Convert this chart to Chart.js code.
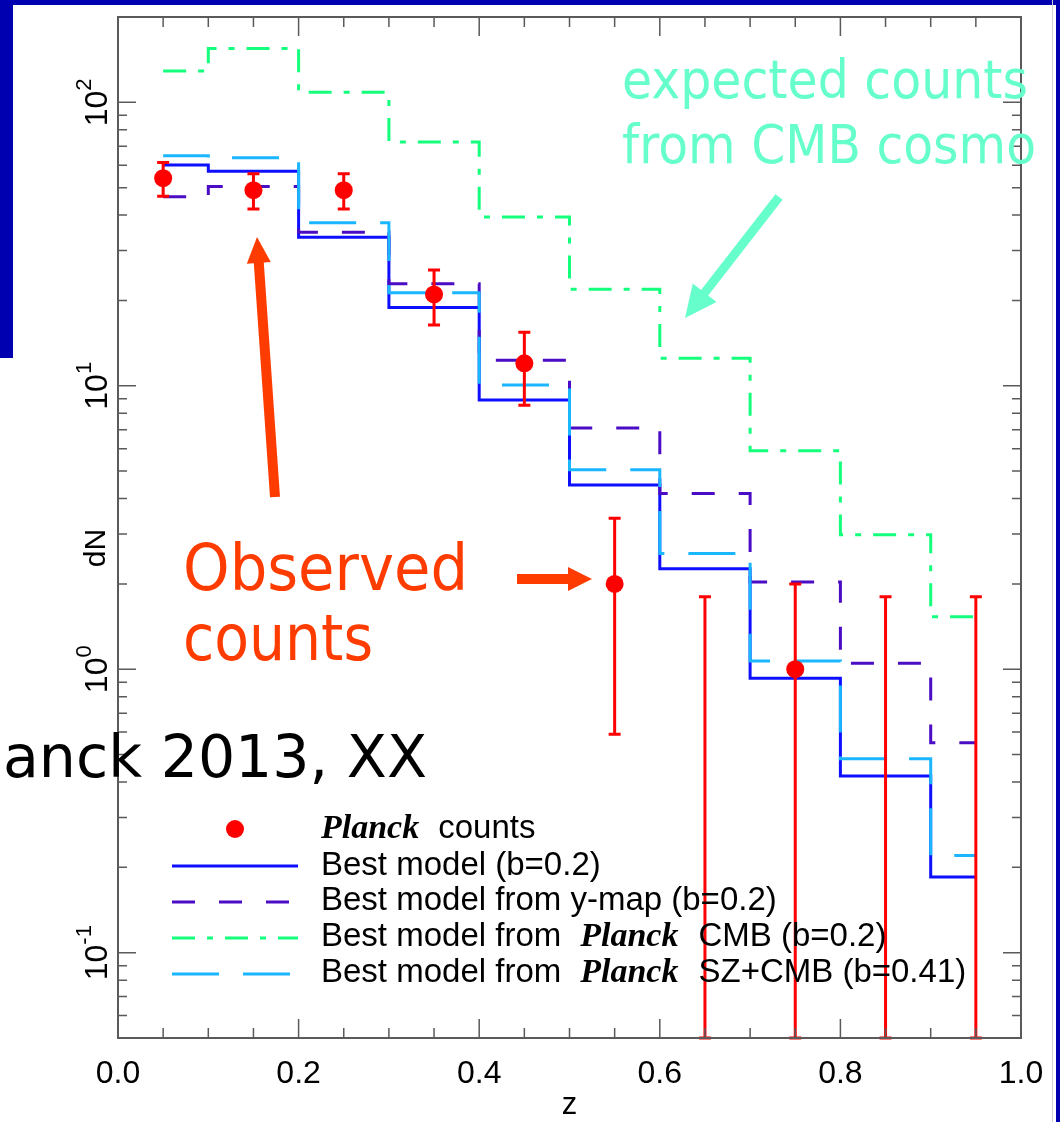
<!DOCTYPE html>
<html>
<head>
<meta charset="utf-8">
<script src="https://cdn.jsdelivr.net/npm/chart.js@4/dist/chart.umd.min.js"></script>
<style>
html, body { margin: 0; padding: 0; background: #fff; }
#wrap { position: relative; width: 1060px; height: 1122px; overflow: hidden; background: #fff; }
#dn { position: absolute; left: 0; top: 0; }
.bar { position: absolute; background: #0000b0; }
</style>
</head>
<body>
<div id="wrap">
  <canvas id="dn" width="1060" height="1122"></canvas>
  <div class="bar" style="left:0;top:0;width:1060px;height:5px"></div>
  <div class="bar" style="left:0;top:0;width:13px;height:358px"></div>
  <div class="bar" style="left:1052px;top:0;width:1px;height:1122px;background:#d0d0d8"></div>
  <div class="bar" style="left:1056px;top:0;width:4px;height:1122px"></div>
</div>
<script>
// redshift bins (centres) and counts per bin
const zBins = [0.05, 0.15, 0.25, 0.35, 0.45, 0.55, 0.65, 0.75, 0.85, 0.95];
const bestModel = [60.1, 57.1, 33.4, 18.9, 8.9, 4.47, 2.26, 0.93, 0.42, 0.185];
const yMapModel = [46.4, 50.5, 34.8, 22.9, 12.3, 7.1, 4.17, 2.03, 1.05, 0.55];
const cmbModel = [129, 155, 108.5, 72.4, 39.4, 21.9, 12.5, 5.9, 2.98, 1.53];
const szCmbModel = [64.8, 63.7, 37.6, 21.3, 10.07, 5.06, 2.56, 1.07, 0.483, 0.22];
const obsCounts = [54, 49, 49, 21, 12, 2, 0, 1, 0, 0];
const errUp = [7.35, 7, 7, 4.6, 3.46, 1.41, 1.8, 1, 1.8, 1.8];
const errDown = [7.35, 7, 7, 4.6, 3.46, 1.41, 0, 1, 0, 0];

const xTickLabels = ['0.0', '0.2', '0.4', '0.6', '0.8', '1.0'];
const yDecades = [-1, 0, 1, 2];

const C_BEST = '#0f0fff';
const C_YMAP = '#4a0cc4';
const C_CMB = '#14ff7c';
const C_SZ = '#1ab6ff';
const C_OBS = '#ff0000';
const AXIS = '#5a5a5a';

function steps(vals) {
  return zBins.map((z, i) => ({ x: z, y: vals[i] }));
}

function arrow(ctx, x0, y0, x1, y1, w, hl, hw, col) {
  const a = Math.atan2(y1 - y0, x1 - x0);
  const len = Math.hypot(x1 - x0, y1 - y0);
  ctx.save();
  ctx.translate(x0, y0);
  ctx.rotate(a);
  ctx.fillStyle = col;
  ctx.fillRect(0, -w / 2, len - hl + 1, w);
  ctx.beginPath();
  ctx.moveTo(len, 0);
  ctx.lineTo(len - hl, -hw / 2);
  ctx.lineTo(len - hl, hw / 2);
  ctx.closePath();
  ctx.fill();
  ctx.restore();
}

// squeeze/stretch a string to a given width
function fitText(ctx, txt, x, y, w) {
  const m = ctx.measureText(txt).width;
  ctx.save();
  ctx.translate(x, y);
  ctx.scale(w / m, 1);
  ctx.fillText(txt, 0, 0);
  ctx.restore();
}

const errorBars = {
  id: 'errorBars',
  afterDatasetsDraw(chart) {
    const ctx = chart.ctx, xs = chart.scales.x, ys = chart.scales.y;
    const area = chart.chartArea;
    ctx.save();
    ctx.strokeStyle = C_OBS;
    ctx.lineWidth = 3;
    zBins.forEach((z, i) => {
      const x = xs.getPixelForValue(z);
      const hi = ys.getPixelForValue(obsCounts[i] + errUp[i]);
      const lowVal = obsCounts[i] - errDown[i];
      const lo = lowVal > ys.min ? ys.getPixelForValue(lowVal) : area.bottom;
      ctx.beginPath();
      ctx.moveTo(x, hi); ctx.lineTo(x, lo);
      ctx.moveTo(x - 6, hi); ctx.lineTo(x + 6, hi);
      ctx.moveTo(x - 6, lo); ctx.lineTo(x + 6, lo);
      ctx.stroke();
    });
    ctx.restore();
  }
};

const frame = {
  id: 'frame',
  afterDraw(chart) {
    const ctx = chart.ctx, xs = chart.scales.x, ys = chart.scales.y;
    const a = chart.chartArea;
    ctx.save();

    // legend
    const lx0 = 172, lx1 = 298;
    const rows = [838, 875, 910, 946, 982];
    const lines = [[875 - 9, C_BEST, []], [910 - 8, C_YMAP, [23, 24]], [946 - 8, C_CMB, [23, 12, 6, 12]], [982 - 8, C_SZ, [47, 24]]];
    ctx.fillStyle = C_OBS;
    ctx.beginPath(); ctx.arc(235, 829, 9, 0, Math.PI * 2); ctx.fill();
    ctx.lineWidth = 3;
    lines.forEach(([y, c, d]) => {
      ctx.strokeStyle = c; ctx.setLineDash(d);
      ctx.beginPath(); ctx.moveTo(lx0, y); ctx.lineTo(lx1, y); ctx.stroke();
    });
    ctx.setLineDash([]);
    const sans = '33px "Liberation Sans", Arial, sans-serif';
    const planck = 'italic bold 34px "Liberation Serif", "Times New Roman", serif';
    ctx.fillStyle = '#000';
    ctx.textBaseline = 'alphabetic';
    ctx.textAlign = 'left';
    function row(y, parts) {
      let x = 321;
      parts.forEach(([t, f, gap]) => {
        ctx.font = f;
        ctx.fillText(t, x, y);
        x += ctx.measureText(t).width + gap;
      });
    }
    row(rows[0], [['Planck', planck, 19], ['counts', sans, 0]]);
    ctx.font = sans;
    ctx.fillText('Best model (b=0.2)', 321, rows[1]);
    ctx.fillText('Best model from y-map (b=0.2)', 321, rows[2]);
    row(rows[3], [['Best model from', sans, 19], ['Planck', planck, 20], ['CMB (b=0.2)', sans, 0]]);
    row(rows[4], [['Best model from', sans, 19], ['Planck', planck, 20], ['SZ+CMB (b=0.41)', sans, 0]]);

    // box and inward ticks on all four sides
    ctx.strokeStyle = AXIS;
    ctx.lineWidth = 1.5;
    ctx.beginPath();
    for (let k = 1; k < 20; k++) {
      const x = xs.getPixelForValue(k * 0.05);
      const len = k % 4 === 0 ? 19 : 10;
      ctx.moveTo(x, a.bottom); ctx.lineTo(x, a.bottom - len);
      ctx.moveTo(x, a.top); ctx.lineTo(x, a.top + len);
    }
    for (let e = -2; e <= 2; e++) {
      for (let m = 1; m <= 9; m++) {
        const v = m * Math.pow(10, e);
        if (v <= ys.min || v >= ys.max) continue;
        const y = ys.getPixelForValue(v);
        const len = m === 1 ? 18 : 9;
        ctx.moveTo(a.left, y); ctx.lineTo(a.left + len, y);
        ctx.moveTo(a.right, y); ctx.lineTo(a.right - len, y);
      }
    }
    ctx.stroke();
    ctx.lineWidth = 2;
    ctx.strokeRect(a.left, a.top, a.right - a.left, a.bottom - a.top);

    // x tick labels and title
    ctx.fillStyle = '#000';
    ctx.font = '32px "Liberation Sans", Arial, sans-serif';
    ctx.textAlign = 'center';
    xTickLabels.forEach((t, i) => ctx.fillText(t, xs.getPixelForValue(i * 0.2), 1083));
    ctx.font = '31px "Liberation Sans", Arial, sans-serif';
    ctx.fillText('z', xs.getPixelForValue(0.5), 1114);

    // y decade labels, rotated, with superscript exponent
    yDecades.forEach(e => {
      const y = ys.getPixelForValue(Math.pow(10, e));
      const sup = e < 0 ? '-' + (-e) : String(e);
      ctx.save();
      ctx.translate(107, y);
      ctx.rotate(-Math.PI / 2);
      ctx.font = '32px "Liberation Sans", Arial, sans-serif';
      const wb = ctx.measureText('10').width;
      ctx.font = '22px "Liberation Sans", Arial, sans-serif';
      const ws = ctx.measureText(sup).width;
      const x0 = -(wb + ws) / 2;
      ctx.textAlign = 'left';
      ctx.font = '32px "Liberation Sans", Arial, sans-serif';
      ctx.fillText('10', x0, 0);
      ctx.font = '22px "Liberation Sans", Arial, sans-serif';
      ctx.fillText(sup, x0 + wb, -16);
      ctx.restore();
    });
    ctx.save();
    ctx.translate(105, 548);
    ctx.rotate(-Math.PI / 2);
    ctx.textAlign = 'center';
    ctx.font = '30px "Liberation Sans", Arial, sans-serif';
    ctx.fillText('dN', 0, 0);
    ctx.restore();

    // annotations
    ctx.textAlign = 'left';
    const hand = '"DejaVu Sans", "Open Sans", sans-serif';
    ctx.fillStyle = '#66ffcc';
    ctx.font = '54px ' + hand;
    fitText(ctx, 'expected counts', 622, 98, 406);
    fitText(ctx, 'from CMB cosmo', 622, 163, 414);
    arrow(ctx, 779, 197, 685, 318, 9, 32, 30, '#66ffcc');

    ctx.fillStyle = '#ff3c00';
    ctx.font = '64px ' + hand;
    fitText(ctx, 'Observed', 183, 590, 285);
    fitText(ctx, 'counts', 183, 660, 190);
    arrow(ctx, 275, 497, 257, 237, 10, 26, 24, '#ff3c00');
    arrow(ctx, 517, 579, 592, 579, 10, 24, 24, '#ff3c00');

    ctx.fillStyle = '#000';
    ctx.font = '58px ' + hand;
    fitText(ctx, 'anck 2013, XX', 3, 777, 424);
    ctx.restore();
  }
};

const modelLine = (label, vals, color, dash, order) => ({
  label, data: steps(vals), borderColor: color, borderWidth: 3, borderDash: dash,
  stepped: 'middle', pointRadius: 0, fill: false, order, borderCapStyle: 'butt'
});

new Chart(document.getElementById('dn').getContext('2d'), {
  type: 'line',
  data: {
    datasets: [
      {
        label: 'Planck counts',
        data: zBins.map((z, i) => ({ x: z, y: obsCounts[i] > 0 ? obsCounts[i] : null })),
        showLine: false, pointRadius: 9, pointBackgroundColor: C_OBS, pointBorderWidth: 0, order: 0
      },
      modelLine('Best model from Planck SZ+CMB (b=0.41)', szCmbModel, C_SZ, [47, 24], 1),
      modelLine('Best model from Planck CMB (b=0.2)', cmbModel, C_CMB, [23, 12, 6, 12], 2),
      modelLine('Best model from y-map (b=0.2)', yMapModel, C_YMAP, [23, 24], 3),
      modelLine('Best model (b=0.2)', bestModel, C_BEST, [], 4)
    ]
  },
  options: {
    responsive: false,
    animation: false,
    devicePixelRatio: 1,
    layout: { padding: { top: 17, right: 39, left: 0, bottom: 0 } },
    plugins: { legend: { display: false }, tooltip: { enabled: false } },
    scales: {
      x: {
        type: 'linear', min: 0, max: 1,
        grid: { display: false }, border: { display: false }, ticks: { display: false },
        afterFit: s => { s.height = 84; }
      },
      y: {
        type: 'logarithmic', min: 0.05, max: 200,
        grid: { display: false }, border: { display: false }, ticks: { display: false },
        afterFit: s => { s.width = 118; }
      }
    }
  },
  plugins: [errorBars, frame]
});
</script>
</body>
</html>
